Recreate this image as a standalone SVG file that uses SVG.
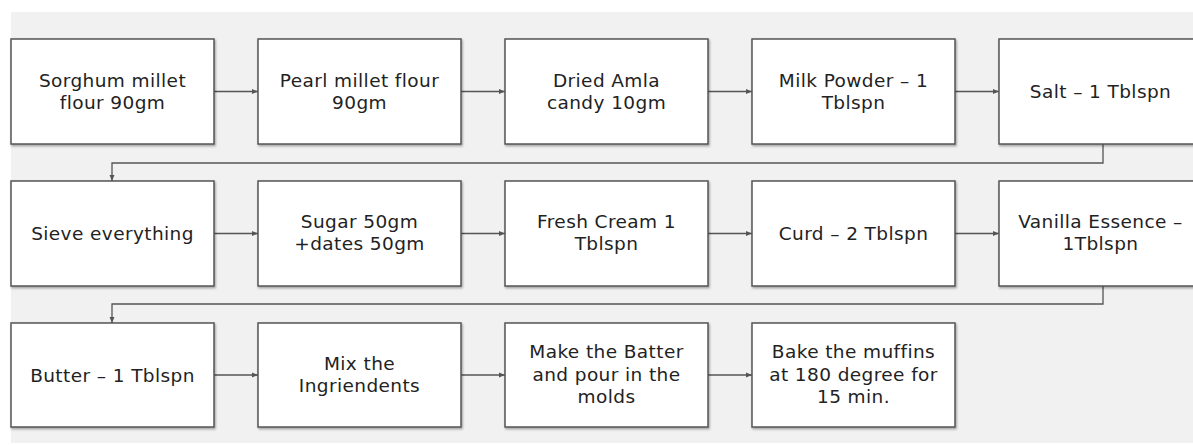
<svg xmlns="http://www.w3.org/2000/svg" width="1193" height="445" viewBox="0 0 1193 445">
<style>
.bg{fill:#f1f1f1}
.box{fill:#fff;stroke:#555;stroke-width:1.5}
.t{font-family:"DejaVu Sans","Liberation Sans",sans-serif;font-size:18.5px;letter-spacing:0.4px;fill:#222;text-anchor:middle}
.c{fill:none;stroke:#555;stroke-width:1.3}
</style>
<defs>
<marker id="ah" viewBox="0 0 6 6" refX="6" refY="3" markerWidth="6" markerHeight="6" markerUnits="userSpaceOnUse" orient="auto">
<path d="M0,0.5 L6,3 L0,5.5 Z" fill="#555"/>
</marker>
<filter id="sh" x="-5%" y="-5%" width="112%" height="115%">
<feDropShadow dx="1" dy="1.5" stdDeviation="1" flood-color="#000" flood-opacity="0.35"/>
</filter>
</defs>
<rect class="bg" x="11" y="12" width="1182" height="431"/>
<g id="connectors">
<line class="c" x1="214" y1="91.5" x2="258" y2="91.5" marker-end="url(#ah)"/>
<line class="c" x1="461" y1="91.5" x2="505" y2="91.5" marker-end="url(#ah)"/>
<line class="c" x1="708" y1="91.5" x2="752" y2="91.5" marker-end="url(#ah)"/>
<line class="c" x1="955" y1="91.5" x2="999" y2="91.5" marker-end="url(#ah)"/>
<polyline class="c" points="1103,144 1103,163 112,163 112,181" marker-end="url(#ah)"/>
<line class="c" x1="214" y1="233.5" x2="258" y2="233.5" marker-end="url(#ah)"/>
<line class="c" x1="461" y1="233.5" x2="505" y2="233.5" marker-end="url(#ah)"/>
<line class="c" x1="708" y1="233.5" x2="752" y2="233.5" marker-end="url(#ah)"/>
<line class="c" x1="955" y1="233.5" x2="999" y2="233.5" marker-end="url(#ah)"/>
<polyline class="c" points="1103,286 1103,304 112,304 112,323" marker-end="url(#ah)"/>
<line class="c" x1="214" y1="375" x2="258" y2="375" marker-end="url(#ah)"/>
<line class="c" x1="461" y1="375" x2="505" y2="375" marker-end="url(#ah)"/>
<line class="c" x1="708" y1="375" x2="752" y2="375" marker-end="url(#ah)"/>
</g>
<g id="n1"><rect class="box" filter="url(#sh)" x="11" y="39" width="203" height="105"/><text class="t" y="87"><tspan x="112.5">Sorghum millet</tspan><tspan x="112.5" dy="22">flour 90gm</tspan></text></g>
<g id="n2"><rect class="box" filter="url(#sh)" x="258" y="39" width="203" height="105"/><text class="t" y="87"><tspan x="359.5">Pearl millet flour</tspan><tspan x="359.5" dy="22">90gm</tspan></text></g>
<g id="n3"><rect class="box" filter="url(#sh)" x="505" y="39" width="203" height="105"/><text class="t" y="87"><tspan x="606.5">Dried Amla</tspan><tspan x="606.5" dy="22">candy 10gm</tspan></text></g>
<g id="n4"><rect class="box" filter="url(#sh)" x="752" y="39" width="203" height="105"/><text class="t" y="87"><tspan x="853.5">Milk Powder – 1</tspan><tspan x="853.5" dy="22">Tblspn</tspan></text></g>
<g id="n5"><rect class="box" filter="url(#sh)" x="999" y="39" width="203" height="105"/><text class="t" x="1100.5" y="98">Salt – 1 Tblspn</text></g>
<g id="n6"><rect class="box" filter="url(#sh)" x="11" y="181" width="203" height="105"/><text class="t" x="112.5" y="240">Sieve everything</text></g>
<g id="n7"><rect class="box" filter="url(#sh)" x="258" y="181" width="203" height="105"/><text class="t" y="228"><tspan x="359.5">Sugar 50gm</tspan><tspan x="359.5" dy="22">+dates 50gm</tspan></text></g>
<g id="n8"><rect class="box" filter="url(#sh)" x="505" y="181" width="203" height="105"/><text class="t" y="228"><tspan x="606.5">Fresh Cream 1</tspan><tspan x="606.5" dy="22">Tblspn</tspan></text></g>
<g id="n9"><rect class="box" filter="url(#sh)" x="752" y="181" width="203" height="105"/><text class="t" x="853.5" y="240">Curd – 2 Tblspn</text></g>
<g id="n10"><rect class="box" filter="url(#sh)" x="999" y="181" width="203" height="105"/><text class="t" y="228"><tspan x="1100.5">Vanilla Essence –</tspan><tspan x="1100.5" dy="22">1Tblspn</tspan></text></g>
<g id="n11"><rect class="box" filter="url(#sh)" x="11" y="323" width="203" height="104"/><text class="t" x="112.5" y="382">Butter – 1 Tblspn</text></g>
<g id="n12"><rect class="box" filter="url(#sh)" x="258" y="323" width="203" height="104"/><text class="t" y="370"><tspan x="359.5">Mix the</tspan><tspan x="359.5" dy="22">Ingriendents</tspan></text></g>
<g id="n13"><rect class="box" filter="url(#sh)" x="505" y="323" width="203" height="104"/><text class="t" y="358"><tspan x="606.5">Make the Batter</tspan><tspan x="606.5" dy="22.5">and pour in the</tspan><tspan x="606.5" dy="22.5">molds</tspan></text></g>
<g id="n14"><rect class="box" filter="url(#sh)" x="752" y="323" width="203" height="104"/><text class="t" y="358"><tspan x="853.5">Bake the muffins</tspan><tspan x="853.5" dy="22.5">at 180 degree for</tspan><tspan x="853.5" dy="22.5">15 min.</tspan></text></g>
</svg>
